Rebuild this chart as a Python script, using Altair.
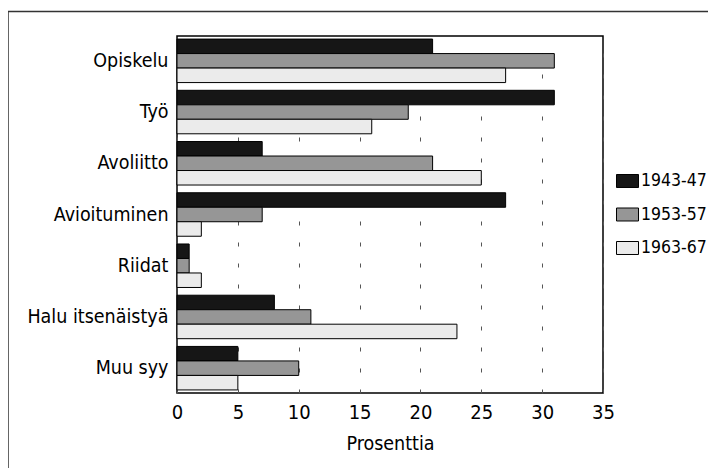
import altair as alt
import pandas as pd

categories = ["Opiskelu", "Työ", "Avoliitto", "Avioituminen", "Riidat", "Halu itsenäistyä", "Muu syy"]
series = ["1943-47", "1953-57", "1963-67"]
v_1943_47 = [21, 31, 7, 27, 1, 8, 5]
v_1953_57 = [31, 19, 21, 7, 1, 11, 10]
v_1963_67 = [27, 16, 25, 2, 2, 23, 5]
x_ticks = [0, 5, 10, 15, 20, 25, 30, 35]

rows = []
for s, vals in zip(series, [v_1943_47, v_1953_57, v_1963_67]):
    for c, v in zip(categories, vals):
        rows.append({"syy": c, "kausi": s, "arvo": v})
df = pd.DataFrame(rows)

FONT = "Liberation Sans Narrow, Arial Narrow, DejaVu Sans Condensed, sans-serif"

bars = alt.Chart(df).mark_bar(stroke="black", strokeWidth=1, opacity=1).encode(
    x=alt.X("arvo:Q", title="Prosenttia",
            scale=alt.Scale(domain=[0, 35], nice=False, zero=True),
            axis=alt.Axis(values=x_ticks, grid=True, gridColor="#555555", gridWidth=1,
                          gridDash=[4, 17], ticks=False, domain=False,
                          labelFontSize=20, labelFont=FONT, labelColor="black",
                          labelPadding=9, labelFlush=False,
                          titleFontSize=19.5, titleFont=FONT, titleFontWeight="normal",
                          titleColor="black", titlePadding=12)),
    y=alt.Y("syy:N", title=None, sort=categories,
            scale=alt.Scale(paddingInner=0.151, paddingOuter=0.06),
            axis=alt.Axis(ticks=False, domain=False, labelFontSize=19.5, labelFont=FONT,
                          labelColor="black", labelPadding=9)),
    yOffset=alt.YOffset("kausi:N", sort=series, scale=alt.Scale(paddingInner=0, paddingOuter=0)),
    fill=alt.Fill("kausi:N", sort=series,
                  scale=alt.Scale(domain=series, range=["#161616", "#969696", "#ebebeb"]),
                  legend=alt.Legend(title=None, orient="none", legendX=439, legendY=133.5,
                                    symbolType="M-1,-0.59H1V0.59H-1Z", symbolSize=484,
                                    symbolStrokeColor="black", symbolStrokeWidth=1,
                                    labelFontSize=17.5, labelFont=FONT, labelColor="black",
                                    labelOffset=2, rowPadding=13.5)),
)

frame = alt.Chart(pd.DataFrame({"a": [0]})).mark_rect(
    fill=None, stroke="#333333", strokeWidth=1.5
).encode(
    x=alt.value(-169), x2=alt.value(700), y=alt.value(-24.5), y2=alt.value(600)
)

chart = alt.layer(frame, bars).properties(
    width=426, height=357,
    autosize=alt.AutoSizeParams(type="none"),
    padding={"left": 169, "top": 28, "right": 105, "bottom": 75},
    background="white",
).configure_view(stroke="black", strokeWidth=1.5)

chart.save("out.html", embed_options={"renderer": "svg", "actions": False})
